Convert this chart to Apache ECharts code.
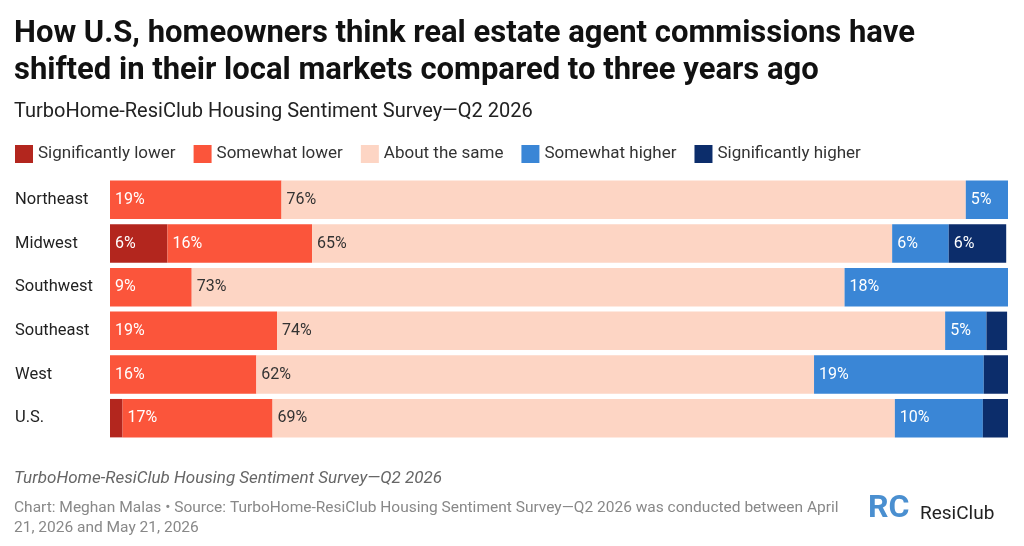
<!DOCTYPE html>
<html><head><meta charset="utf-8">
<script src="https://cdn.jsdelivr.net/npm/echarts@6/dist/echarts.min.js"></script>
<style>html,body{margin:0;padding:0;background:#fff}#c{width:1024px;height:546px}</style>
</head><body><div id="c"></div>
<script>
const categories = ["Northeast","Midwest","Southwest","Southeast","West","U.S."];
const seriesNames = ["Significantly lower","Somewhat lower","About the same","Somewhat higher","Significantly higher"];
const sigLower = [0, 6.4, 0, 0, 0, 1.4];
const someLower = [19.1, 16.1, 9.1, 18.6, 16.3, 16.7];
const same = [76.2, 64.6, 72.7, 74.4, 62.1, 69.3];
const someHigher = [4.7, 6.3, 18.2, 4.6, 18.9, 9.8];
const sigHigher = [0, 6.4, 0, 2.3, 2.7, 2.8];
const colors = ["#b3261e","#fb553b","#fdd5c4","#3a86d6","#0c2d6b"];
const labelColors = ["#fff","#fff","#333","#fff","#fff"];
const data = [sigLower, someLower, same, someHigher, sigHigher];
const chart = echarts.init(document.getElementById('c'));
const font = "Roboto";
chart.setOption({
  textStyle:{fontFamily:font},
  animation:false,
  title:[
    {text:"How U.S, homeowners think real estate agent commissions have\nshifted in their local markets compared to three years ago",left:9,top:11,textStyle:{fontSize:31,fontWeight:'bold',color:'#111',lineHeight:37,fontFamily:font}},
    {text:"TurboHome-ResiClub Housing Sentiment Survey—Q2 2026",left:9,top:97,textStyle:{fontSize:20,fontWeight:'normal',color:'#222',fontFamily:font}},
    {text:"TurboHome-ResiClub Housing Sentiment Survey—Q2 2026",left:9,top:465,textStyle:{fontSize:17,fontStyle:'italic',fontWeight:'normal',color:'#666',fontFamily:font}},
    {text:"Chart: Meghan Malas • Source: TurboHome-ResiClub Housing Sentiment Survey—Q2 2026 was conducted between April\n21, 2026 and May 21, 2026",left:9,top:493,textStyle:{fontSize:15.5,fontWeight:'normal',color:'#888',lineHeight:20,fontFamily:font}}
  ],
  graphic:[
    {type:'text',left:920,top:505,style:{text:'ResiClub',fontSize:19,fontFamily:font,fill:'#222'}},
    {type:'text',left:868,top:493,style:{text:'RC',fontSize:32,fontWeight:'bold',fontFamily:font,fill:'#4a8fd0'}}
  ],
  legend:{left:10,top:140,itemWidth:18,itemHeight:18,itemGap:18,icon:'rect',textStyle:{fontSize:17,color:'#333'},data:seriesNames},
  grid:{left:110,right:16,top:178,bottom:106},
  xAxis:{type:'value',min:0,max:100,show:false},
  yAxis:{type:'category',data:categories,inverse:true,axisLine:{show:false},axisTick:{show:false},
    axisLabel:{fontSize:16.5,color:'#222',align:'left',margin:95}},
  series:seriesNames.map((n,i)=>({
    name:n,type:'bar',stack:'a',data:data[i],barCategoryGap:'12%',
    itemStyle:{color:colors[i]},
    label:{show:true,position:'insideLeft',fontSize:16,color:labelColors[i],
      formatter:p=>p.value>=4?Math.round(p.value)+'%':''}
  }))
});
</script></body></html>
